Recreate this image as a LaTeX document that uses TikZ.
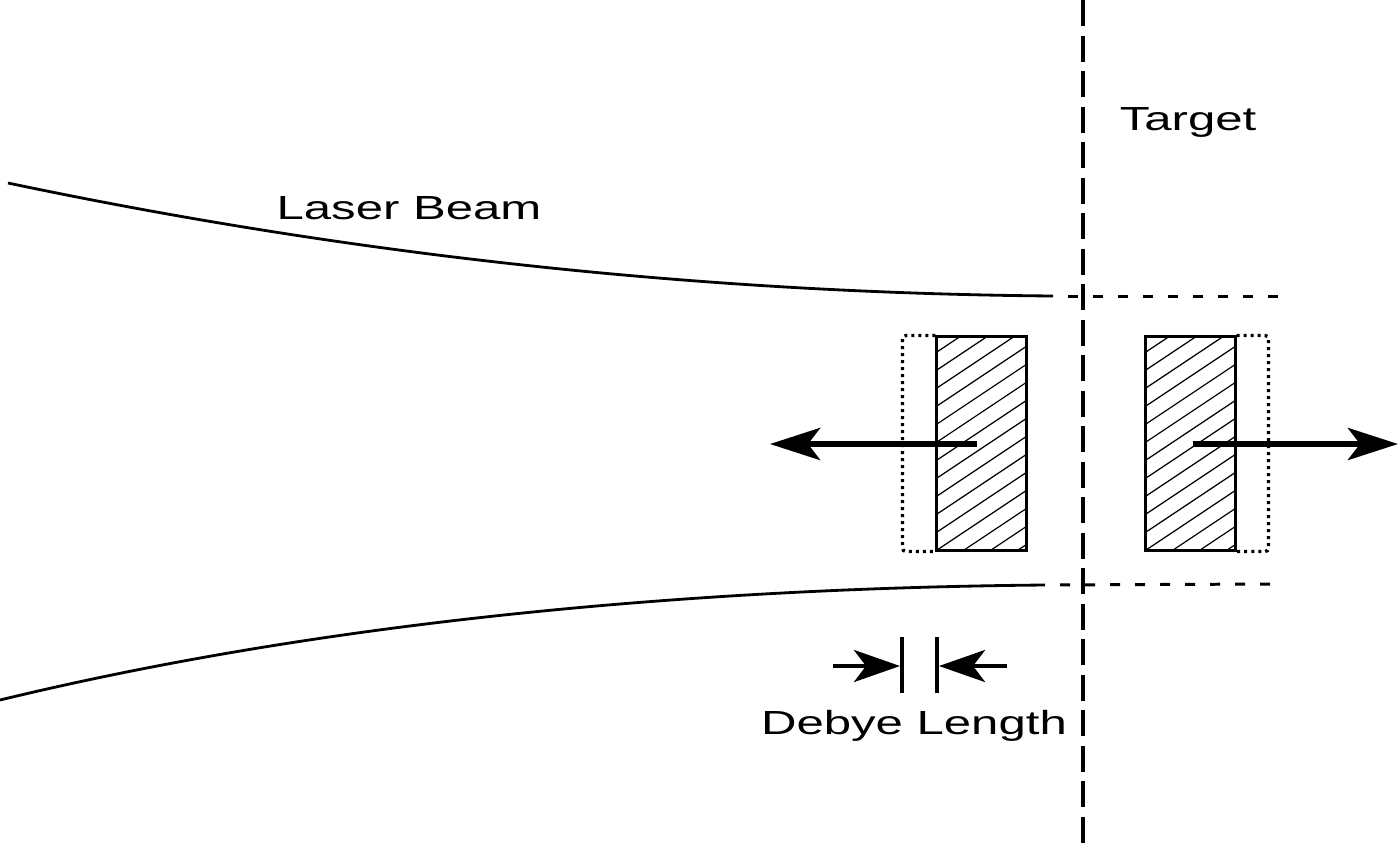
\documentclass[tikz,border=0pt]{standalone}
\usepackage{fontspec}
\newfontfamily\labelfont[FakeStretch=1.47]{Liberation Sans}
\usetikzlibrary{arrows.meta}
\tikzset{
  hatchbox/.style   = {draw, line width=0.85pt,
                       minimum width=0.89cm, minimum height=2.13cm, inner sep=0pt,
                       path picture={\foreach \k in {-4,...,12}
                         \draw[line width=0.35pt] ([yshift=\k*0.18cm]path picture bounding box.south west) -- ++(162,-108);}},
  dotline/.style    = {line width=0.95pt, dash pattern=on 0.03cm off 0.04cm, rounded corners=1pt},
  beam/.style       = {line width=0.8pt},
  beamext/.style    = {line width=0.85pt, dash pattern=on 0.1cm off 0.15cm, dash phase=0.1cm},
  targetline/.style = {line width=1.1pt, dash pattern=on 0.26cm off 0.095cm},
  bigarrow/.style   = {-{Stealth[length=0.5cm, width=0.32cm, inset=0.12cm]}, line width=1.7pt},
  debyearrow/.style = {-{Stealth[length=0.46cm, width=0.32cm, inset=0.12cm]}, line width=1.1pt},
  debyebar/.style   = {line width=1.1pt},
  labeltext/.style  = {font=\labelfont\fontsize{9.5pt}{11pt}\selectfont, anchor=base, inner sep=0pt},
}
\begin{document}
\begin{tikzpicture}[x=0.01cm, y=-0.01cm]
  \useasboundingbox (0,0) rectangle (1400,845);
  \coordinate (ttop) at (1083,0);
  \coordinate (tbot) at (1083,845);
  \draw[targetline] (ttop) -- (tbot);

  \coordinate (ubeamstart) at (8,183);
  \coordinate (ubeamend) at (1053,296);
  \coordinate (ubeamstop) at (1278,296);
  \coordinate (lbeamstart) at (0,700);
  \coordinate (lbeamend) at (1045,585);
  \coordinate (lbeamstop) at (1270,584);
  \draw[beam] (ubeamstart) .. controls (350,255) and (700,293) .. (ubeamend);
  \draw[beam] (lbeamstart) .. controls (330,620) and (700,588) .. (lbeamend);
  \draw[beamext] (ubeamend) -- (ubeamstop);
  \draw[beamext] (lbeamend) -- (lbeamstop);

  \node[hatchbox] (lbox) at (981.5,443.5) {};
  \node[hatchbox] (rbox) at (1190.5,443.5) {};
  \draw[dotline] (lbox.north west) -- ++(-33,0) -- ([xshift=-0.33cm]lbox.south west) -- (lbox.south west);
  \draw[dotline] (rbox.north east) -- ++(32,0) -- ([xshift=0.32cm]rbox.south east) -- (rbox.south east);

  \coordinate (lpush) at (977,444);
  \coordinate (lfly) at (770,444);
  \coordinate (rpush) at (1193,444);
  \coordinate (rfly) at (1398,444);
  \draw[bigarrow] (lpush) -- (lfly);
  \draw[bigarrow] (rpush) -- (rfly);

  \coordinate (dbartopL) at (902,637);
  \coordinate (dbarbotL) at (902,693);
  \coordinate (dbartopR) at (937,637);
  \coordinate (dbarbotR) at (937,693);
  \coordinate (dinL) at (833,666);
  \coordinate (dtipL) at (900,666);
  \coordinate (dinR) at (1007,666);
  \coordinate (dtipR) at (939,666);
  \draw[debyebar] (dbartopL) -- (dbarbotL);
  \draw[debyebar] (dbartopR) -- (dbarbotR);
  \draw[debyearrow] (dinL) -- (dtipL);
  \draw[debyearrow] (dinR) -- (dtipR);

  \node[labeltext] (beamlabel) at (409,219) {Laser Beam};
  \node[labeltext] (targetlabel) at (1188,130) {Target};
  \node[labeltext] (debyelabel) at (914,734) {Debye Length};
\end{tikzpicture}
\end{document}
